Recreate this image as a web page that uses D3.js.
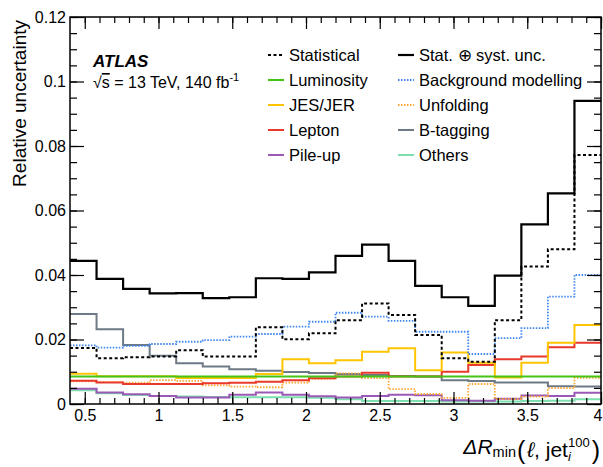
<!DOCTYPE html>
<html>
<head>
<meta charset="utf-8">
<script src="https://cdn.jsdelivr.net/npm/d3@7"></script>
<style>
  html, body { margin: 0; padding: 0; background: #fff; }
  svg { display: block; }
  text { font-family: "Liberation Sans", Arial, Helvetica, sans-serif; fill: #000; }
</style>
</head>
<body>
<svg id="chart" width="603" height="467"></svg>
<script>
// Bin edges of the ΔR_min(ℓ, jet) distribution
const binEdges = [0.4, 0.58, 0.76, 0.94, 1.12, 1.30, 1.48, 1.66, 1.84, 2.02, 2.20,
                  2.38, 2.56, 2.74, 2.92, 3.10, 3.28, 3.46, 3.64, 3.82, 4.0];

// Relative uncertainty per bin, one array per source
const statistical = [0.0174, 0.0142, 0.0145, 0.0147, 0.0167, 0.0147, 0.0147, 0.0238, 0.0201, 0.0219,
                     0.0260, 0.0312, 0.0276, 0.0214, 0.0142, 0.0131, 0.0260, 0.0426, 0.0480, 0.0772];
const totalUnc    = [0.0444, 0.0388, 0.0357, 0.0343, 0.0344, 0.0328, 0.0331, 0.0390, 0.0388, 0.0408,
                     0.0459, 0.0494, 0.0444, 0.0366, 0.0331, 0.0304, 0.0398, 0.0557, 0.0653, 0.0940];
const luminosity  = [0.0085, 0.0085, 0.0085, 0.0085, 0.0085, 0.0085, 0.0085, 0.0085, 0.0085, 0.0085,
                     0.0085, 0.0085, 0.0085, 0.0085, 0.0085, 0.0085, 0.0085, 0.0085, 0.0085, 0.0085];
const backgroundModelling = [0.0182, 0.0175, 0.0180, 0.0186, 0.0193, 0.0198, 0.0209, 0.0217, 0.0240, 0.0255,
                     0.0283, 0.0271, 0.0258, 0.0224, 0.0224, 0.0155, 0.0204, 0.0235, 0.0333, 0.0400];
const jesJer      = [0.0094, 0.0086, 0.0086, 0.0086, 0.0081, 0.0081, 0.0081, 0.0093, 0.0139, 0.0126,
                     0.0136, 0.0162, 0.0173, 0.0105, 0.0160, 0.0128, 0.0082, 0.0128, 0.0190, 0.0245];
const unfolding   = [0.0070, 0.0068, 0.0066, 0.0074, 0.0072, 0.0058, 0.0054, 0.0052, 0.0066, 0.0078,
                     0.0095, 0.0080, 0.0046, 0.0031, 0.0019, 0.0062, 0.0016, 0.0023, 0.0049, 0.0081];
const lepton      = [0.0072, 0.0067, 0.0062, 0.0062, 0.0062, 0.0064, 0.0066, 0.0069, 0.0074, 0.0080,
                     0.0085, 0.0097, 0.0085, 0.0085, 0.0100, 0.0121, 0.0139, 0.0147, 0.0176, 0.0190];
const bTagging    = [0.0279, 0.0232, 0.0183, 0.0150, 0.0126, 0.0116, 0.0108, 0.0103, 0.0099, 0.0096,
                     0.0093, 0.0090, 0.0087, 0.0085, 0.0074, 0.0071, 0.0067, 0.0067, 0.0055, 0.0054];
const pileUp      = [0.0047, 0.0036, 0.0030, 0.0025, 0.0020, 0.0020, 0.0029, 0.0036, 0.0029, 0.0024,
                     0.0020, 0.0025, 0.0029, 0.0027, 0.0012, 0.0010, 0.0016, 0.0026, 0.0025, 0.0035];
const others      = [0.0043, 0.0033, 0.0028, 0.0025, 0.0023, 0.0022, 0.0021, 0.0021, 0.0021, 0.0019,
                     0.0015, 0.0009, 0.0009, 0.0009, 0.0008, 0.0008, 0.0008, 0.0009, 0.0010, 0.0015];

// Axis tick values and labels
const xTickValues = [0.5, 1, 1.5, 2, 2.5, 3, 3.5, 4];
const xTickLabels = ["0.5", "1", "1.5", "2", "2.5", "3", "3.5", "4"];
const yTickValues = [0, 0.02, 0.04, 0.06, 0.08, 0.1, 0.12];
const yTickLabels = ["0", "0.02", "0.04", "0.06", "0.08", "0.1", "0.12"];

// Series styling and legend layout (column, row)
const seriesList = [
  { name: "Others",              values: others,              color: "#7ddfb0", dash: null,      width: 2,   col: 1, row: 4 },
  { name: "Pile-up",             values: pileUp,              color: "#9b59b6", dash: null,      width: 2,   col: 0, row: 4 },
  { name: "B-tagging",           values: bTagging,            color: "#6d7a86", dash: null,      width: 2,   col: 1, row: 3 },
  { name: "Unfolding",           values: unfolding,           color: "#ffa733", dash: "1.5,1.5", width: 1.8, col: 1, row: 2 },
  { name: "Lepton",              values: lepton,              color: "#e8392a", dash: null,      width: 2,   col: 0, row: 3 },
  { name: "JES/JER",             values: jesJer,              color: "#ffc500", dash: null,      width: 2,   col: 0, row: 2 },
  { name: "Luminosity",          values: luminosity,          color: "#44c417", dash: null,      width: 2,   col: 0, row: 1 },
  { name: "Background modelling",values: backgroundModelling, color: "#3f86ee", dash: "1.5,1.5", width: 1.8, col: 1, row: 1 },
  { name: "Statistical",         values: statistical,         color: "#000000", dash: "3,2.5",   width: 2,   col: 0, row: 0 },
  { name: "Stat. \u2295 syst. unc.", values: totalUnc,        color: "#000000", dash: null,      width: 2.2, col: 1, row: 0 }
];

const svg = d3.select("#chart");
const frame = { left: 70, right: 601, top: 17, bottom: 404 };

const x = d3.scaleLinear().domain([0.4, 4.0]).range([frame.left, frame.right]);
const y = d3.scaleLinear().domain([0, 0.12]).range([frame.bottom, frame.top]);

// Histogram outlines
const stepLine = d3.line()
  .x(d => x(d[0]))
  .y(d => y(d[1]))
  .curve(d3.curveStepAfter);

function histPoints(values) {
  const pts = values.map((v, i) => [binEdges[i], v]);
  pts.push([binEdges[binEdges.length - 1], values[values.length - 1]]);
  return pts;
}

const plot = svg.append("g");
seriesList.forEach(s => {
  plot.append("path")
    .attr("d", stepLine(histPoints(s.values)))
    .attr("fill", "none")
    .attr("stroke", s.color)
    .attr("stroke-width", s.width)
    .attr("stroke-dasharray", s.dash)
    .attr("stroke-linejoin", "miter");
});

// Frame and ticks (ticks point inwards)
const axes = svg.append("g");
function styleAxis(g) {
  g.select(".domain").remove();
  g.selectAll("line").attr("stroke", "#000").attr("stroke-width", 1.2);
  g.selectAll("text").style("font-size", "16px").attr("fill", "#000");
}
const xMinor = d3.range(5, 41).map(v => v / 10);
const yMinor = d3.range(0, 25).map(v => v * 0.005);

axes.append("g").attr("transform", `translate(0,${frame.bottom})`)
  .call(d3.axisBottom(x).tickValues(xMinor).tickSize(-6).tickFormat(""))
  .call(styleAxis);
const xAxis = axes.append("g").attr("transform", `translate(0,${frame.bottom})`)
  .call(d3.axisBottom(x).tickValues(xTickValues).tickSizeInner(-12).tickSizeOuter(0).tickPadding(6)
    .tickFormat((d, i) => xTickLabels[i]))
  .call(styleAxis);
xAxis.selectAll(".tick text").attr("dy", "0.71em");
xAxis.selectAll(".tick").filter(d => d === 4).select("text").attr("text-anchor", "end").attr("dx", "1");

axes.append("g").attr("transform", `translate(0,${frame.top})`)
  .call(d3.axisTop(x).tickValues(xMinor).tickSize(-6).tickFormat(""))
  .call(styleAxis);
axes.append("g").attr("transform", `translate(0,${frame.top})`)
  .call(d3.axisTop(x).tickValues(xTickValues).tickSize(-12).tickFormat(""))
  .call(styleAxis);

axes.append("g").attr("transform", `translate(${frame.left},0)`)
  .call(d3.axisLeft(y).tickValues(yMinor).tickSize(-7).tickFormat(""))
  .call(styleAxis);
axes.append("g").attr("transform", `translate(${frame.left},0)`)
  .call(d3.axisLeft(y).tickValues(yTickValues).tickSizeInner(-14).tickSizeOuter(0).tickPadding(4)
    .tickFormat((d, i) => yTickLabels[i]))
  .call(styleAxis);
axes.append("g").attr("transform", `translate(${frame.right},0)`)
  .call(d3.axisRight(y).tickValues(yMinor).tickSize(-7).tickFormat(""))
  .call(styleAxis);
axes.append("g").attr("transform", `translate(${frame.right},0)`)
  .call(d3.axisRight(y).tickValues(yTickValues).tickSize(-14).tickFormat(""))
  .call(styleAxis);

axes.append("rect")
  .attr("x", frame.left).attr("y", frame.top)
  .attr("width", frame.right - frame.left).attr("height", frame.bottom - frame.top)
  .attr("fill", "none").attr("stroke", "#000").attr("stroke-width", 1.5);

// Axis titles
svg.append("text")
  .attr("transform", `translate(26,${frame.top + 3}) rotate(-90)`)
  .attr("text-anchor", "end")
  .style("font-size", "19px")
  .text("Relative uncertainty");

const xt = svg.append("text").attr("x", 600).attr("y", 454).attr("text-anchor", "end").style("font-size", "21px");
xt.append("tspan").style("font-style", "italic").text("\u0394R");
xt.append("tspan").style("font-size", "14.5px").attr("dy", 3).text("min");
xt.append("tspan").style("font-size", "25px").attr("dy", 2).attr("dx", 1).text("(");
xt.append("tspan").style("font-style", "italic").attr("dy", -2).attr("dx", 2).text("\u2113");
xt.append("tspan").text(", jet");
const subI = xt.append("tspan").style("font-size", "13px").style("font-style", "italic").attr("dy", 4).text("i");
const sup = xt.append("tspan").style("font-size", "13px").attr("dy", -14).text("100");
xt.append("tspan").style("font-size", "25px").attr("dy", 12).attr("dx", 2).text(")");
sup.attr("dx", -subI.node().getComputedTextLength());

// ATLAS label
svg.append("text").attr("x", 93).attr("y", 67)
  .style("font-size", "17px").style("font-weight", "bold").style("font-style", "italic")
  .text("ATLAS");
const energy = svg.append("text").attr("x", 93).attr("y", 88).style("font-size", "16px");
energy.append("tspan").text("\u221A");
energy.append("tspan").style("text-decoration", "overline").text("s");
energy.append("tspan").text(" = 13 TeV, 140 fb");
energy.append("tspan").style("font-size", "11px").attr("dy", -7).text("-1");

// Legend
const legend = svg.append("g");
const colX = [268, 398];
const rowY = [55, 80, 105, 130, 155];
seriesList.forEach(s => {
  const lx = colX[s.col], ly = rowY[s.row];
  legend.append("line")
    .attr("x1", lx).attr("x2", lx + 16).attr("y1", ly).attr("y2", ly)
    .attr("stroke", s.color).attr("stroke-width", s.width)
    .attr("stroke-dasharray", s.dash);
  legend.append("text")
    .attr("x", lx + 21).attr("y", ly + 6)
    .style("font-size", "16.5px")
    .text(s.name);
});
</script>
</body>
</html>
